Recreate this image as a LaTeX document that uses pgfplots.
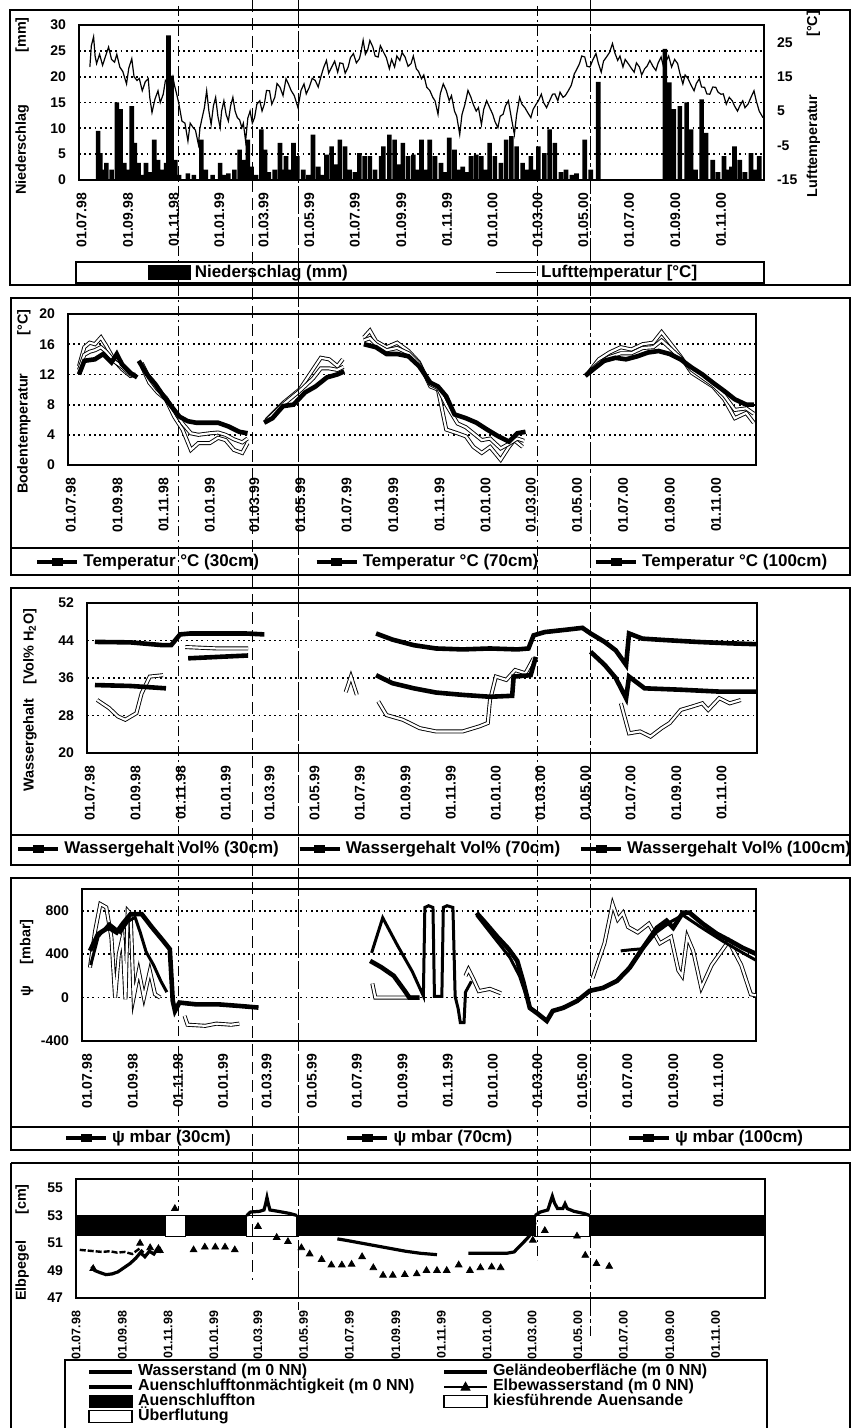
\documentclass[border=0pt]{standalone}
\usepackage{fontspec}
\setmainfont{Liberation Sans}
\usepackage{pgfplots}
\pgfplotsset{compat=1.18}

\newcommand{\tfont}{\fontsize{7}{8}\selectfont\bfseries}
\newcommand{\lfont}{\fontsize{8.5}{9}\selectfont\bfseries}
\newcommand{\yfont}{\fontsize{7.2}{8}\selectfont\bfseries}

\pgfplotsset{
  panel/.style={
    scale only axis, anchor=north west,
    axis line style={line width=1pt},
    major tick length=0pt,
    tick pos=left,
    ymajorgrids,
    grid style={black, line width=0.9pt, dash pattern=on 0.9pt off 1.7pt},
    tick label style={font=\tfont},
    /pgf/number format/assume math mode=true,
    xtick={0,62,123,184,243,304,365,427,488,549,609,670,731,793,854},
    xticklabels={01.07.98,01.09.98,01.11.98,01.01.99,01.03.99,01.05.99,01.07.99,01.09.99,01.11.99,01.01.00,01.03.00,01.05.00,01.07.00,01.09.00,01.11.00},
    xticklabel style={rotate=90, anchor=east},
    xticklabel shift=3pt, yticklabel shift=3pt,
    unbounded coords=jump,
    ylabel style={font=\yfont, anchor=center},
    legend style={draw=none, fill=none, inner sep=0pt, outer sep=0pt,
      column sep=2pt, nodes={inner sep=0pt, text height=6pt, text depth=1.5pt},
      font=\lfont, anchor=west},
    legend cell align=left,
  },
  outl/.style={black, line width=0.45pt, double=white, double distance=1.1pt},
  thk/.style={black, line width=2.3pt},
  legline/.style={legend image code/.code={\draw[line width=2.2pt] (0pt,0pt) -- (20pt,0pt); \fill (7.5pt,-1.9pt) rectangle (12.5pt,1.9pt);}},
}

\begin{document}
\begin{tikzpicture}
\useasboundingbox (0pt,0pt) rectangle (426.5pt,-714pt);
\fill[white] (0pt,0pt) rectangle (426.5pt,-714pt);

%================ PANEL 1 =================
\begin{axis}[panel, at={(39.5pt,-12.5pt)}, width=342.5pt, height=77.5pt,
  xmin=-3.5, xmax=911.4, ymin=0, ymax=30, ytick={0,5,...,30},
  ylabel={Niederschlag\hspace{26pt}[mm]},
  ylabel style={at={(axis description cs:-0.083,0.477)}}]
\addplot[ybar, bar width=2.3pt, fill=black, draw=none] coordinates {
(22,9.5)(25,5.2)(28,2)(33,3.3)(40,2)(47,15)(52,13.7)(57,3.3)(62,2)(67,14.3)(71,7.2)(76,3.3)(81,1)(86,3.3)(92,1.5)(97,7.8)(102,3.9)(108,2)(113,3.3)(116,28)(120,20.2)(125,3.9)(130,1)(142,1.3)(150,1)(160,7.8)(166,2)(175,1)(185,3.3)(190,1)(196,1.3)(204,2)(211,5.9)(216,3.9)(222,7.8)(227,2.6)(233,1)(240,9.8)(245,5.9)(250,1.5)(258,2)(265,7.2)(269,2)(273,4.6)(278,2)(283,7.2)(288,4.6)(296,2)(303,1)(309,8.8)(316,2.6)(321,1)(327,4.9)(334,6.5)(340,3)(345,7.8)(352,6.5)(358,2)(365,1.5)(371,5.2)(378,4.6)(385,4.6)(392,2)(400,4.6)(403,6.5)(411,8.8)(418,7.8)(424,3)(429,7.2)(436,4.6)(443,4.9)(449,2)(454,7.8)(460,2)(465,7.8)(472,4.6)(480,3.3)(486,1.5)(491,8.2)(498,5.9)(504,2)(509,2.6)(515,1.5)(520,4.6)(527,4.9)(534,4.6)(540,2)(545,7.2)(552,4.6)(560,3.3)(567,7.8)(574,8.5)(581,6.5)(589,3.3)(595,2)(600,4.6)(605,2)(610,6.5)(618,5.2)(625,9.8)(632,7.2)(640,1.5)(647,2)(655,1)(661,1.3)(672,7.8)(680,2)(690,19)(779,25.4)(785,18.9)(791,13.7)(799,14.3)(808,15)(814,9.8)(820,2)(828,15.6)(834,9.1)(843,3.9)(850,1.5)(858,4.6)(862,2)(868,2.6)(872,6.5)(879,3.9)(886,1.5)(894,5.2)(900,2)(905,4.6)};
\end{axis}
\begin{axis}[scale only axis, anchor=north west, at={(39.5pt,-12.5pt)}, width=342.5pt, height=77.5pt,
  xmin=-3.5, xmax=911.4, ymin=-15, ymax=30,
  axis y line*=right, axis x line=none, axis line style={line width=1pt},
  major tick length=0pt, ytick={-15,-5,5,15,25},
  tick label style={font=\tfont}, /pgf/number format/assume math mode=true, yticklabel shift=3pt,
  ylabel={Lufttemperatur\hspace{29pt}[°C]},
  ylabel style={font=\yfont, anchor=center, at={(axis description cs:1.072,0.49)}},
  legend style={draw=none, fill=none, inner sep=0pt, outer sep=0pt, column sep=2pt,
    nodes={inner sep=0pt, text height=6pt, text depth=1.5pt}, font=\lfont,
    at={(axis description cs:0.1007,-0.597)}, anchor=west, legend columns=2},
  legend cell align=left]
\addlegendimage{legend image code/.code={\fill (0pt,-3.5pt) rectangle (21pt,3.5pt);}}
\addlegendentry{\makebox[148.5pt][l]{Niederschlag (mm)}}
\addplot[black, line width=0.6pt, legend image code/.code={\draw[line width=0.7pt] (0pt,0pt) -- (20pt,0pt);}] coordinates {
(11,17.8)(13,24)(16,26.6)(18,21)(20,18.8)(24,21.5)(28,18.3)(32,21)(36,23.6)(40,20)(44,19.2)(47,21.5)(51,17.8)(55,16.5)(60,12.9)(63,17.5)(67,20.2)(70,15)(74,13.9)(77,14.5)(81,10.9)(85,13.5)(89,14.4)(91,9)(94,4.6)(98,8.5)(102,10.9)(105,7.5)(109,9.9)(112,14)(116,13.9)(119,11.5)(122,14.8)(124,12.5)(127,9.9)(130,7)(134,2.1)(138,1.5)(142,-3.7)(145,1.5)(149,0.2)(152,-0.5)(156,-4.7)(158,0)(161,3.1)(164,6)(167,10.9)(170,5)(173,1.1)(176,6.5)(179,9)(182,3.5)(185,0.2)(187,5)(190,8)(193,4)(196,2.1)(199,6.5)(202,9)(205,5)(208,3.1)(211,2.5)(214,0.2)(216,1.5)(219,-3.7)(222,3)(225,5)(228,1.5)(231,3.1)(234,7)(238,8)(241,5)(244,7)(247,11)(251,10.9)(254,7)(258,9)(261,13)(265,11.9)(269,9.5)(273,14.4)(276,13)(280,10.9)(284,9.5)(289,6)(293,11)(297,12.9)(300,10)(304,11.9)(308,14.5)(312,13.9)(316,12)(320,15.3)(323,17.5)(327,19.7)(330,16)(334,17.8)(338,19.5)(342,16.3)(345,19)(349,18.8)(352,16)(356,17.8)(359,20.5)(363,21.7)(367,19)(371,20.2)(373,22)(376,25.6)(379,21.5)(382,22.7)(385,25.5)(389,23.6)(392,21)(396,20.7)(399,24)(403,22.2)(407,20.5)(411,17.3)(414,20)(418,17.8)(421,21)(425,19.7)(428,22)(432,20.7)(436,18)(440,18.8)(443,21)(447,17.3)(450,16.5)(454,14.4)(457,15.5)(461,11.9)(465,11)(469,9)(472,8)(476,4.1)(479,10)(483,12.9)(487,11)(491,8)(494,9.5)(498,5)(501,3.5)(505,-1.8)(508,4)(512,7)(516,11)(520,9)(523,7)(527,5)(530,6)(534,1.1)(537,5.5)(541,8)(545,6)(549,4.1)(552,2)(556,0.2)(559,3.5)(563,4.1)(566,6.5)(570,8)(574,3)(578,-1.8)(581,4)(585,9)(588,7)(592,6)(596,4.5)(600,3.1)(603,5.5)(607,7)(610,8)(614,9.9)(617,7.5)(621,6)(625,8)(629,9.9)(632,10)(636,8)(639,10.5)(643,9)(646,9.5)(650,10.9)(654,12.5)(658,15.8)(661,17)(665,18.8)(668,21)(672,20.7)(675,18)(679,17.8)(683,20)(687,21.7)(690,19)(694,16.3)(697,19.5)(701,20.7)(705,22)(709,24.6)(712,22)(716,19.7)(719,21)(723,17.8)(726,20)(730,18.8)(734,17.5)(738,16.3)(741,19)(745,17.8)(748,15.5)(752,17.3)(755,18)(759,19.7)(763,18)(767,16.8)(770,19)(774,20.7)(777,18)(781,19.7)(784,21)(788,17.8)(792,20)(796,18.8)(799,16)(803,12.9)(806,15.5)(810,14.4)(814,12.5)(818,10.9)(821,13)(825,14.4)(828,12)(832,11.9)(835,10)(839,9.9)(843,12)(847,11.9)(850,10.5)(854,9.9)(857,10)(861,7)(865,9)(869,8)(872,6.5)(876,5)(879,6.5)(883,8)(886,6)(890,7)(894,9)(898,10.9)(901,8)(905,5)(910,3.1)};
\addlegendentry{Lufttemperatur [°C]}
\end{axis}

%================ PANEL 2 =================
\begin{axis}[panel, at={(34pt,-157pt)}, width=344pt, height=75.5pt,
  xmin=-3.6, xmax=907, ymin=0, ymax=20, ytick={0,4,...,20},
  ylabel={Bodentemperatur\hspace{19pt}[°C]},
  ylabel style={at={(axis description cs:-0.064,0.42)}},
  legend style={at={(axis description cs:-0.048,-0.642)}, legend columns=3}]
\addplot[outl, forget plot] coordinates {
(11,13.1)(18,15.6)(25,16.2)(32,16)(40,16.9)(47,15.8)(58,13.8)(68,12.7)(79,11.8)(86,12) (87,nan)
(94,13.1)(104,10.9)(115,9.6)(126,8.7)(137,6.4)(148,4.7)(159,2)(169,2.9)(184,2.9)(195,3.6)(205,3.3)(216,2)(227,1.6)(234,2.9) (235,nan)
(259,6)(281,8.2)(303,10)(321,12.7)(331,14.2)(342,14)(353,13.1)(360,14) (361,nan)
(388,16.9)(396,17.8)(404,16.4)(418,15.6)(432,16.2)(447,15.1)(461,13.6)(476,10.4)(486,10)(497,4.7)(512,4.2)(523,3.8)(533,2.4)(544,1.6)(555,2.4)(569,0.7)(580,2.4)(587,3.3)(598,2.4) (599,nan)
(685,12.2)(699,14)(713,14.9)(728,15.6)(742,15.3)(757,16)(771,16.2)(782,17.6)(793,16.2)(807,14.4)(822,12.2)(836,11.3)(850,10.4)(865,8.7)(879,6.2)(894,6.9)(904,5.6)};
\addplot[outl, forget plot] coordinates {
(11,12.6)(18,14.6)(25,15)(32,15.2)(40,15.6)(47,15)(58,13.7)(68,13)(79,12)(86,11.8) (87,nan)
(94,13.5)(104,11.5)(115,10)(126,8.9)(137,7.2)(148,5.5)(159,4.2)(169,4)(184,4.2)(195,4.3)(205,4)(216,3.4)(227,3)(234,3.5) (235,nan)
(258,5.8)(281,8)(303,9.8)(321,11.5)(331,12.8)(342,12.8)(353,12.6)(361,13) (362,nan)
(388,16.5)(396,16.8)(404,16)(418,15.2)(432,15.5)(447,14.8)(461,13.4)(476,10.7)(486,10.2)(497,8)(512,5.5)(523,5)(533,4.2)(544,3.3)(555,3.5)(569,2.2)(580,2.8)(591,3.5)(600,3.2) (601,nan)
(683,12)(699,13.5)(713,14.3)(728,14.8)(742,14.8)(757,15.5)(771,15.6)(782,16.5)(793,15.5)(807,14.2)(822,12.6)(836,11.6)(850,10.6)(865,9.2)(879,7.3)(894,7.5)(904,6.8)};
\addplot[thk, forget plot] coordinates {
(11,12)(18,13.8)(32,14)(43,14.7)(54,13.6)(61,14.7)(68,13.3)(79,12.2)(88,11.6) (89,nan)
(90,13.8)(101,12)(112,10.7)(123,9.1)(133,7.8)(144,6.4)(155,5.8)(166,5.6)(180,5.6)(195,5.6)(209,5.1)(223,4.4)(234,4.2) (235,nan)
(256,5.6)(267,6.2)(281,7.8)(295,8)(310,9.6)(324,10.4)(339,11.6)(353,12)(362,12.4) (363,nan)
(388,16)(404,15.6)(418,14.7)(432,14.7)(447,14.4)(461,13.1)(476,10.9)(486,10.4)(497,9.1)(508,6.7)(523,6.2)(537,5.6)(551,4.7)(566,3.8)(580,3.1)(591,4.2)(602,4.4) (603,nan)
(681,11.8)(692,12.7)(706,13.8)(721,14.2)(735,14)(750,14.4)(764,14.9)(778,15.1)(793,14.7)(807,14)(822,12.9)(836,12)(850,10.9)(865,9.8)(879,8.7)(894,8)(904,8)};
\addlegendimage{legline}\addlegendentry{\makebox[113.5pt][l]{Temperatur °C (30cm)}}
\addlegendimage{legline}\addlegendentry{\makebox[113.5pt][l]{Temperatur °C (70cm)}}
\addlegendimage{legline}\addlegendentry{Temperatur °C (100cm)}
\end{axis}

%================ PANEL 3 =================
\begin{axis}[panel, at={(43.5pt,-301.5pt)}, width=335pt, height=75pt,
  xmin=-3.8, xmax=902, ymin=20, ymax=52, ytick={20,28,...,52},
  ylabel={Wassergehalt\hspace{7pt}[Vol\% H\textsubscript{2}O]},
  ylabel style={at={(axis description cs:-0.085,0.353)}},
  legend style={at={(axis description cs:-0.106,-0.64)}, legend columns=3}]
\addplot[outl, forget plot] coordinates {
(10,31.3)(26,29.6)(38,27.8)(48,27.1)(63,28.5)(70,32.7)(81,36.3)(99,36.6) (100,nan)
(129,42.6)(173,42.3)(214,42.3) (215,nan)
(346,33)(353,36.3)(361,32.4) (362,nan)
(390,31)(401,28.1)(423,27.1)(446,25.3)(468,24.6)(504,24.6)(527,25.7)(538,26.4)(541,31.3)(549,36.3)(563,35.6)(575,37.7)(589,37)(600,40.2) (601,nan)
(718,30.6)(729,24.2)(744,24.6)(758,23.5)(773,25.3)(784,26.4)(799,29.2)(814,29.9)(828,30.6)(836,29.2)(851,31.7)(865,30.6)(880,31.3)};
\addplot[thk, forget plot] coordinates {
(7,34.5)(55,34.3)(103,33.8) (104,nan)
(133,40.2)(173,40.5)(214,40.8) (215,nan)
(387,36.6)(409,34.9)(438,33.8)(468,32.9)(504,32.4)(541,32)(571,32.2)(573,36.3)(596,36.6)(603,40.5) (604,nan)
(677,41.6)(696,38.8)(711,36)(725,31.7)(729,36.3)(750,33.8)(799,33.5)(851,33.1)(904,33.1)};
\addplot[thk, forget plot] coordinates {
(7,43.7)(55,43.6)(99,43)(110,43)(122,45.3)(136,45.5)(173,45.5)(210,45.5)(236,45.3) (237,nan)
(387,45.5)(409,44.2)(438,43)(468,42.3)(504,42.1)(541,42.3)(578,42.1)(593,42.3)(600,45.1)(615,45.8)(644,46.3)(666,46.7)(677,45.5)(696,43.7)(711,41.9)(725,38.8)(729,45.5)(747,44.4)(777,44.1)(821,43.7)(865,43.4)(904,43.2)};
\addlegendimage{legline}\addlegendentry{\makebox[114.5pt][l]{Wassergehalt Vol\% (30cm)}}
\addlegendimage{legline}\addlegendentry{\makebox[114.5pt][l]{Wassergehalt Vol\% (70cm)}}
\addlegendimage{legline}\addlegendentry{Wassergehalt Vol\% (100cm)}
\end{axis}

%================ PANEL 4 =================
\begin{axis}[panel, at={(41pt,-444.5pt)}, width=337pt, height=76pt,
  xmin=-6.8, xmax=905, ymin=-400, ymax=1000, ytick={-400,0,400,800},
  ylabel={ψ\hspace{11pt}[mbar]},
  ylabel style={at={(axis description cs:-0.082,0.546)}},
  legend style={at={(axis description cs:-0.027,-0.638)}, legend columns=3}]
\addplot[outl, forget plot] coordinates {
(4,277)(11,615)(18,862)(26,831)(33,554)(38,0)(43,400)(48,554)(52,-15)(55,800)(59,769)(63,0)(70,246)(77,0)(85,246)(92,31)(99,0) (100,nan)
(132,-169)(136,-250)(160,-260)(175,-240)(195,-250)(206,-240) (207,nan)
(386,130)(390,0)(449,0) (450,nan)
(512,200)(516,260)(522,180)(530,60)(545,80)(560,40) (561,nan)
(684,180)(700,500)(711,860)(718,720)(725,780)(732,650)(745,600)(760,680)(775,500)(790,560)(800,250)(805,200)(812,560)(820,430)(831,90)(845,300)(868,520)(885,300)(898,30)(905,20)};
\addplot[black, line width=1.5pt, forget plot] coordinates {
(5,300)(15,560)(30,680)(45,600)(55,700)(65,740)(72,600)(80,420)(90,300)(100,150)(108,50) (109,nan)
(385,412)(400,735)(420,480)(440,240)(455,15)(457,830)(462,846)(468,830)(470,10)(480,10)(482,830)(487,846)(495,830)(498,10)(502,-100)(505,-230)(510,-230)(512,50)(520,150) (521,nan)
(527,760)(550,560)(572,370)(585,200)(595,0) (596,nan)
(722,430)(735,440)(752,450)(770,600)(790,700)(806,760)(830,650)(860,520)(885,420)(906,340)};
\addplot[thk, forget plot] coordinates {
(4,431)(15,585)(29,646)(40,600)(48,677)(59,769)(74,769)(88,646)(103,523)(112,446)(116,-31)(119,-123)(125,-46)(147,-62)(177,-62)(206,-77)(232,-92) (233,nan)
(383,338)(398,280)(415,200)(430,60)(436,0)(450,0) (451,nan)
(527,780)(540,680)(555,560)(570,450)(582,338)(590,150)(599,-95)(610,-150)(617,-188)(622,-215)(630,-123)(644,-95)(663,-31)(680,62)(698,89)(717,154)(734,274)(752,458)(771,643)(784,708)(793,643)(806,782)(815,782)(833,680)(852,588)(870,523)(887,458)(906,400)};
\addlegendimage{legline}\addlegendentry{\makebox[114.5pt][l]{ψ mbar (30cm)}}
\addlegendimage{legline}\addlegendentry{\makebox[114.5pt][l]{ψ mbar (70cm)}}
\addlegendimage{legline}\addlegendentry{ψ mbar (100cm)}
\end{axis}

%================ PANEL 5 =================
\begin{axis}[panel, at={(38pt,-589.5pt)}, width=344.5pt, height=59.5pt,
  xmin=0, xmax=920, ymin=47, ymax=55.65, ytick={47,49,...,55}, ymajorgrids=false,
  xticklabel style={font=\fontsize{6.2}{7}\selectfont\bfseries},
  ylabel={Elbpegel\hspace{13pt}[cm]},
  ylabel style={at={(axis description cs:-0.078,0.466)}},
  legend style={at={(axis description cs:0.016,-0.555)}, anchor=north west, legend columns=2,
    font=\fontsize{8}{8}\selectfont\bfseries, row sep=0pt,
    nodes={inner sep=0pt, text height=5.8pt, text depth=1.7pt}}]
\addplot[fill=black, draw=none, forget plot] coordinates {(0,51.5)(920,51.5)(920,53)(0,53)} -- cycle;
\addplot[fill=white, draw=black, line width=0.6pt, forget plot] coordinates {(120,51.5)(146,51.5)(146,53)(120,53)} -- cycle;
\addplot[fill=white, draw=black, line width=0.6pt, forget plot] coordinates {(228,51.5)(295,51.5)(295,53)(228,53)} -- cycle;
\addplot[fill=white, draw=black, line width=0.6pt, forget plot] coordinates {(613,51.5)(686,51.5)(686,53)(613,53)} -- cycle;
\addplot[black, line width=1.2pt, dash pattern=on 3pt off 1pt, forget plot] coordinates {
(5,50.5)(15,50.45)(25,50.4)(35,50.35)(45,50.4)(55,50.3)(65,50.35)(75,50.2)(85,50.6)(90,50.3)};
\addplot[black, line width=1.6pt, forget plot] coordinates {
(21,49.3)(25,49)(32,48.85)(40,48.7)(48,48.75)(56,48.9)(64,49.2)(72,49.5)(80,49.9)(86,50.3)(92,50)(98,50.4)(104,50.2)(110,50.7)(114,50.3) (115,nan)
(228,53)(233,53.25)(245,53.3)(251,53.4)(253,53.8)(255,54.3)(257,53.8)(259,53.4)(270,53.3)(285,53.15)(295,53) (296,nan)
(349,51.3)(360,51.2)(380,51)(400,50.8)(420,50.6)(440,50.4)(460,50.25)(482,50.15) (483,nan)
(524,50.25)(550,50.25)(575,50.25)(585,50.35)(593,50.8)(602,51.3)(609,51.75)(613,52.5) (614,nan)
(613,53)(620,53.25)(630,53.4)(633,53.9)(636,54.4)(639,53.9)(643,53.5)(650,53.5)(653,53.85)(656,53.5)(665,53.3)(678,53.15)(686,53)};
\addplot[black, only marks, mark=triangle*, mark size=1.9pt, forget plot] coordinates {
(23,49.14)(85.5,50.98)(99,50.65)(112,50.45)(132,53.5)(157,50.5)(172,50.7)(186,50.7)(199,50.7)(212,50.5)(243,52.2)(268,51.4)(283,51.1)(301,50.65)(312,50.2)(328,49.8)(341,49.4)(355,49.4)(368,49.45)(382,50)(397,49.2)(410,48.65)(423,48.65)(439,48.7)(455,48.75)(468,49)(482,49)(495,49)(511,49.4)(526,49)(540,49.2)(555,49.25)(567,49.2)(610,51.2)(626,51.9)(669,51.5)(680,50.1)(695,49.5)(712,49.3)};
\addlegendimage{legend image code/.code={\draw[line width=2pt] (0pt,0pt) -- (21.5pt,0pt);}}
\addlegendentry{\makebox[150pt][l]{Wasserstand (m 0 NN)}}
\addlegendimage{legend image code/.code={\draw[line width=2pt] (0pt,0pt) -- (21.5pt,0pt);}}
\addlegendentry{Geländeoberfläche (m 0 NN)}
\addlegendimage{legend image code/.code={\draw[line width=2pt] (0pt,0pt) -- (21.5pt,0pt);}}
\addlegendentry{\makebox[150pt][l]{Auenschlufftonmächtigkeit (m 0 NN)}}
\addlegendimage{legend image code/.code={\draw[line width=1pt] (0pt,0pt) -- (21.5pt,0pt); \fill (8.5pt,-1.8pt) -- (13pt,-1.8pt) -- (10.75pt,2.2pt) -- cycle;}}
\addlegendentry{Elbewasserstand (m 0 NN)}
\addlegendimage{legend image code/.code={\fill (0pt,-3pt) rectangle (21.5pt,3pt);}}
\addlegendentry{\makebox[150pt][l]{Auenschluffton}}
\addlegendimage{legend image code/.code={\draw[line width=0.8pt, fill=white] (0pt,-3pt) rectangle (21.5pt,3pt);}}
\addlegendentry{kiesführende Auensande}
\addlegendimage{legend image code/.code={\draw[line width=0.8pt, fill=white] (0pt,-3pt) rectangle (21.5pt,3pt);}}
\addlegendentry{\makebox[150pt][l]{Überflutung}}
\end{axis}

%================ frames & legend boxes =================
\begin{scope}[line width=0.8pt]
\draw (5pt,-5pt) rectangle (425pt,-142.5pt);
\draw (38pt,-131pt) rectangle (382pt,-141.5pt);
\draw (5.5pt,-149pt) rectangle (425pt,-287.5pt);
\draw (5.5pt,-274pt) -- (425pt,-274pt);
\draw (5.5pt,-294pt) rectangle (425pt,-432.5pt);
\draw (5.5pt,-417.5pt) -- (425pt,-417.5pt);
\draw (5.5pt,-439pt) rectangle (425pt,-575pt);
\draw (5.5pt,-563.5pt) -- (425pt,-563.5pt);
\draw (5.5pt,-581.5pt) -- (5.5pt,-714pt);
\draw (5.5pt,-581.5pt) -- (425pt,-581.5pt) -- (425pt,-714pt);
\draw (32.5pt,-714pt) -- (32.5pt,-680pt) -- (383.5pt,-680pt) -- (383.5pt,-714pt);
\end{scope}
%================ vertical overlay lines =================
\begin{scope}[line width=0.5pt]
\draw[dash pattern=on 5pt off 2pt on 1pt off 2pt] (89pt,-3pt) -- (89pt,-605pt);
\draw[dash pattern=on 6pt off 3pt] (126pt,0pt) -- (126pt,-640pt);
\draw[dash pattern=on 14pt off 1.5pt] (149pt,0pt) -- (149pt,-655pt);
\draw[dash pattern=on 5pt off 2pt on 1pt off 2pt] (268.5pt,-3pt) -- (268.5pt,-630pt);
\draw[dash pattern=on 12pt off 1.5pt on 2pt off 1.5pt] (295pt,0pt) -- (295pt,-668pt);
\end{scope}
\end{tikzpicture}
\end{document}
